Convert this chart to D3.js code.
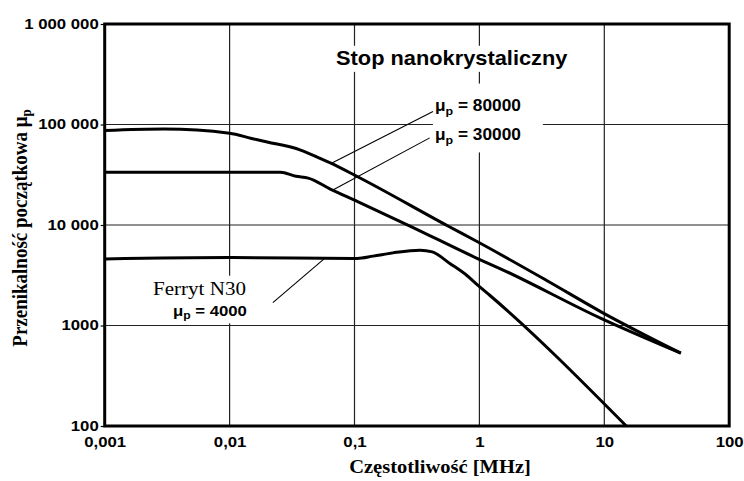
<!DOCTYPE html>
<html>
<head>
<meta charset="utf-8">
<script src="https://cdn.jsdelivr.net/npm/d3@7/dist/d3.min.js"></script>
<style>
  html, body { margin: 0; padding: 0; background: #fff; }
  svg { display: block; }
</style>
</head>
<body>
<svg id="chart" width="744" height="481"></svg>
<script>
// ---------------- DATA ----------------
const xTickValues = [0.001, 0.01, 0.1, 1, 10, 100];
const xTickLabels = ["0,001", "0,01", "0,1", "1", "10", "100"];
const yTickValues = [100, 1000, 10000, 100000, 1000000];
const yTickLabels = ["100", "1000", "10 000", "100 000", "1 000 000"];

// Stop nanokrystaliczny, mu_p = 80000
const freq80 = [0.001, 0.003, 0.01, 0.015, 0.02, 0.037, 0.053, 0.064, 0.106, 0.56, 0.966, 3.43, 9.5, 41];
const mu80   = [87000, 90000, 82000, 72600, 67000, 55700, 46100, 41500, 30200, 9770, 6810, 2820, 1360, 530];

// Stop nanokrystaliczny, mu_p = 30000
const freq30 = [0.001, 0.0255, 0.034, 0.0426, 0.064, 0.106, 0.278, 0.966, 1.46, 9.5, 41];
const mu30   = [33500, 33500, 30500, 29300, 22800, 17100, 9770, 4640, 3690, 1170, 530];

// Ferryt N30, mu_p = 4000
const freqF = [0.001, 0.01, 0.105, 0.141, 0.203, 0.334, 0.42, 0.58, 0.79, 0.975, 1.21, 15];
const muF   = [4600, 4750, 4650, 4900, 5280, 5620, 5400, 4140, 3160, 2510, 2000, 100];

// leader lines: [f1, mu1, f2, mu2]
const leaders = [
  [0.066, 41500, 0.425, 135000],
  [0.066, 22000, 0.40, 73600],
  [0.058, 4680, 0.0222, 1690]
];

const seriesLabels = ["= 80000", "= 30000", "= 4000"];
const titleText = "Stop nanokrystaliczny";
const ferriteText = "Ferryt N30";
const xTitle = "Częstotliwość [MHz]";
const yTitle = "Przenikalność początkowa ";

// ---------------- LAYOUT ----------------
const SX = 1.08; // horizontal stretch of text in the reference
const svg = d3.select("#chart");
const pLeft = 104.7, pRight = 729.2, pTop = 24, pBottom = 426;

const x = d3.scaleLog().domain([0.001, 100]).range([pLeft, pRight]);
const y = d3.scaleLog().domain([100, 1000000]).range([pBottom, pTop]);

const sans = "'Liberation Sans', Arial, sans-serif";
const serif = "'Liberation Serif', 'Times New Roman', serif";

// grid
const grid = svg.append("g");
grid.selectAll("line.v").data(xTickValues.slice(1, -1)).enter().append("line")
  .attr("x1", d => x(d)).attr("x2", d => x(d))
  .attr("y1", pTop).attr("y2", pBottom)
  .attr("stroke", "#222").attr("stroke-width", 1.2);
grid.selectAll("line.h").data(yTickValues.slice(1, -1)).enter().append("line")
  .attr("x1", pLeft).attr("x2", pRight)
  .attr("y1", d => y(d)).attr("y2", d => y(d))
  .attr("stroke", "#222").attr("stroke-width", 1.2);

// y axis (ticks + labels)
const yAxis = d3.axisLeft(y).tickValues(yTickValues)
  .tickFormat((d, i) => yTickLabels[i]).tickSize(4).tickPadding(2);
const gy = svg.append("g").attr("transform", `translate(${pLeft},0)`).call(yAxis);
gy.select(".domain").remove();
gy.selectAll(".tick line").attr("stroke", "#000").attr("stroke-width", 1.2);
gy.selectAll(".tick text").each(function() {
  const t = d3.select(this);
  const xx = +t.attr("x");
  t.attr("x", null).attr("dy", "0.27em")
   .attr("transform", `translate(${xx},0) scale(${SX},1)`)
   .attr("font-family", sans).attr("font-weight", "bold")
   .attr("font-size", 15.5).attr("fill", "#000");
});

// x axis
const xAxis = d3.axisBottom(x).tickValues(xTickValues)
  .tickFormat((d, i) => xTickLabels[i]).tickSize(0).tickPadding(0);
const gx = svg.append("g").attr("transform", `translate(0,${pBottom})`).call(xAxis);
gx.select(".domain").remove();
gx.selectAll(".tick text").each(function() {
  d3.select(this).attr("y", null).attr("dy", null)
   .attr("transform", `translate(0,20.5) scale(${SX},1)`)
   .attr("font-family", sans).attr("font-weight", "bold")
   .attr("font-size", 15.5).attr("fill", "#000");
});

// helper for stretched text
function stext(parent, px, py, opts) {
  const t = parent.append("text")
    .attr("transform", `translate(${px},${py}) scale(${SX},1)` + (opts.rotate ? ` rotate(${opts.rotate})` : ""))
    .attr("font-family", opts.family || sans)
    .attr("font-weight", opts.weight || "normal")
    .attr("font-size", opts.size)
    .attr("text-anchor", opts.anchor || "start")
    .attr("fill", "#000");
  return t;
}
function muLabel(parent, px, py, rest, size) {
  const t = stext(parent, px, py, { weight: "bold", size: size });
  t.append("tspan").text("μ");
  t.append("tspan").attr("font-size", size * 0.72).attr("dy", size * 0.22).text("p");
  t.append("tspan").attr("dy", -size * 0.22).text(" " + rest);
  return t;
}

// white boxes behind text groups
const boxes = svg.append("g");
const texts = svg.append("g");
function whiteBox(node, pl, pr, pt, pb) {
  const r = node.getBoundingClientRect();
  const s = svg.node().getBoundingClientRect();
  boxes.append("rect")
    .attr("x", r.left - s.left - pl).attr("y", r.top - s.top - pt)
    .attr("width", r.width + pl + pr).attr("height", r.height + pt + pb)
    .attr("fill", "#fff");
}

// title
const tTitle = stext(texts, 336, 65, { weight: "bold", size: 20.2 }).text(titleText);
whiteBox(tTitle.node(), 6, 6, 1, 3);

// mu labels
const g80 = texts.append("g");
muLabel(g80, 435, 111, seriesLabels[0], 16);
muLabel(g80, 435, 140, seriesLabels[1], 16);
whiteBox(g80.node(), 2, 22, 13, 6);

// ferrite labels
const gF = texts.append("g");
stext(gF, 153, 295, { family: serif, size: 19.5 }).text(ferriteText);
muLabel(gF, 173, 316, seriesLabels[2], 15.5);
whiteBox(gF.node(), 3, 2, 2, 2);

// axis titles
const tx = stext(texts, 440, 473, { family: serif, weight: "bold", size: 19, anchor: "middle" });
tx.text(xTitle);
const ty = stext(texts, 27, 228, { family: serif, weight: "bold", size: 19, anchor: "middle", rotate: -90 });
ty.append("tspan").text(yTitle + "μ");
ty.append("tspan").attr("font-size", 13).attr("dy", 4).text("p");

// leader lines
svg.append("g").selectAll("line").data(leaders).enter().append("line")
  .attr("x1", d => x(d[0])).attr("y1", d => y(d[1]))
  .attr("x2", d => x(d[2])).attr("y2", d => y(d[3]))
  .attr("stroke", "#000").attr("stroke-width", 1.1);

// curves
const line = d3.line().x(d => x(d[0])).y(d => y(d[1])).curve(d3.curveMonotoneX);
const series = [
  d3.zip(freq80, mu80),
  d3.zip(freq30, mu30),
  d3.zip(freqF, muF)
];
svg.append("g").selectAll("path").data(series).enter().append("path")
  .attr("d", line)
  .attr("fill", "none").attr("stroke", "#000")
  .attr("stroke-width", 3).attr("stroke-linejoin", "round").attr("stroke-linecap", "butt");

// frame
svg.append("rect")
  .attr("x", pLeft).attr("y", pTop)
  .attr("width", pRight - pLeft).attr("height", pBottom - pTop)
  .attr("fill", "none").attr("stroke", "#000").attr("stroke-width", 3);
</script>
</body>
</html>
